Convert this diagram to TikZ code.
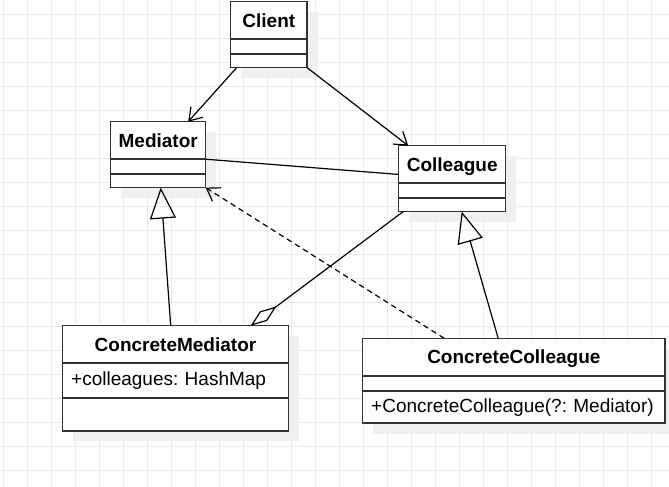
\documentclass[tikz,border=0pt]{standalone}
\usepackage{fontspec}
\setmainfont{Liberation Sans}
\usepackage{tikz}
\usetikzlibrary{arrows.meta, positioning, shadows}
\definecolor{boxline}{HTML}{333333}
\definecolor{gridgray}{HTML}{EBEBEB}
\definecolor{shadowgray}{HTML}{F0F0F0}
\newcommand{\umlsize}{\fontsize{19}{23}\selectfont}
\tikzset{
  boxshadow/.style={
    drop shadow={shadow xshift=10.5pt, shadow yshift=-10.5pt, fill=shadowgray, opacity=1}
    },
  classname/.style={
    rectangle,
    minimum height=37.5pt,
    text height=13.7pt,
    text depth=0pt,
    outer sep=0pt,
    draw=boxline,
    line width=1.5pt,
    fill=white,
    font=\umlsize\bfseries,
    boxshadow
    },
  compart/.style={
    rectangle,
    inner sep=0pt,
    outer sep=0pt,
    draw=boxline,
    line width=1.5pt,
    fill=white,
    boxshadow
    },
  member/.style={
    compart,
    align=left,
    inner xsep=8.5pt,
    text height=13.7pt,
    text depth=4pt,
    font=\umlsize
    },
  gridline/.style={draw=gridgray, line width=1pt},
  assoc/.style={line width=1.2pt, -{Straight Barb[length=12pt, width=16pt]}},
  depend/.style={line width=1.2pt, dash pattern=on 5.5pt off 4pt, -{Straight Barb[length=12pt, width=16pt]}},
  inherit/.style={line width=1.2pt, -{Triangle[open, length=31pt, width=26pt]}},
  aggr/.style={line width=1.2pt, -{Diamond[open, length=32pt, width=12pt]}},
  link/.style={line width=1.2pt}
}

\begin{document}
\frenchspacing
\hyphenpenalty=10000
\begin{tikzpicture}[x=1pt, y=-1pt]
\useasboundingbox[fill=white] (0,0) rectangle (669,487);
% canvas grid
\foreach \gx in {0,...,27}
  \draw[gridline] (3.3+24*\gx,0) -- (3.3+24*\gx,487);
\foreach \gy in {0,...,19}
  \draw[gridline] (0,14.3+24*\gy) -- (669,14.3+24*\gy);

% classes
\node (client) [classname, minimum width=76.3pt, anchor=north west] at (230.7,1.7) {Client};
\node (clientattr) [compart, minimum width=76.3pt, minimum height=14.7pt, below=0pt of client] {};
\node (clientops) [compart, minimum width=76.3pt, minimum height=13.7pt, below=0pt of clientattr] {};

\node (mediator) [classname, minimum width=95pt, anchor=north west] at (110.7,121.7) {Mediator};
\node (mediatorattr) [compart, minimum width=95pt, minimum height=14.7pt, below=0pt of mediator] {};
\node (mediatorops) [compart, minimum width=95pt, minimum height=13.7pt, below=0pt of mediatorattr] {};

\node (colleague) [classname, minimum width=107pt, anchor=north west] at (398.7,145.7) {Colleague};
\node (colleagueattr) [compart, minimum width=107pt, minimum height=15pt, below=0pt of colleague] {};
\node (colleagueops) [compart, minimum width=107pt, minimum height=13.4pt, below=0pt of colleagueattr] {};

\node (cm) [classname, minimum width=225.6pt, anchor=north west] at (62.7,325.7) {ConcreteMediator};
\node (cmattr) [member, text width=208.6pt, minimum height=34.7pt, below=0pt of cm] {+colleagues: HashMap};
\node (cmops) [compart, minimum width=225.6pt, minimum height=33pt, below=0pt of cmattr] {};

\node (cc) [classname, minimum width=302.3pt, anchor=north west] at (362.7,338.3) {ConcreteColleague};
\node (ccattr) [compart, minimum width=302.3pt, minimum height=15.4pt, below=0pt of cc] {};
\node (ccops) [member, text width=285.3pt, minimum height=32pt, below=0pt of ccattr] {+ConcreteColleague(?: Mediator)};

% relations
\draw[assoc] ([xshift=6pt]clientops.south west) -- ([xshift=77.5pt]mediator.north west);
\draw[assoc] (clientops.south east) -- ([xshift=9.5pt]colleague.north west);
\draw[link] (mediator.south east) -- ([yshift=-10pt]colleague.west);
\draw[inherit] ([xshift=108pt]cm.north west) -- ([xshift=50pt]mediatorops.south west);
\draw[inherit] ([xshift=135.5pt]cc.north west) -- ([xshift=63pt]colleagueops.south west);
\draw[aggr] ([xshift=4.5pt]colleagueops.south west) -- ([xshift=188pt]cm.north west);
\draw[depend] ([xshift=81.5pt]cc.north west) -- (mediatorops.south east);
\end{tikzpicture}
\end{document}
